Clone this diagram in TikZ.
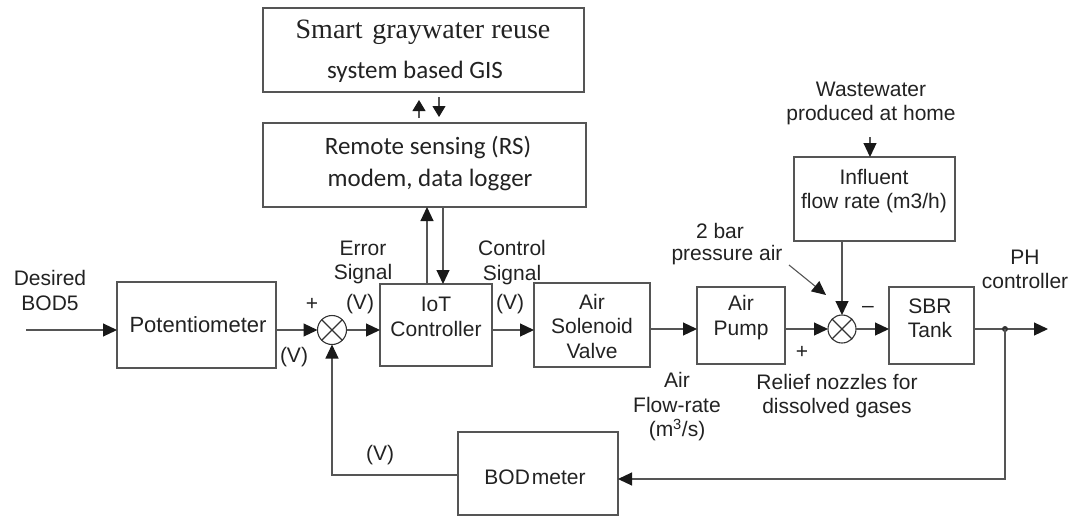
\documentclass[tikz,border=0pt]{standalone}
\usepackage{fontspec}
\setmainfont{Liberation Sans}
\newfontfamily\carlitofont{Carlito}
\newfontfamily\timesfont{Liberation Serif}
\usetikzlibrary{arrows.meta}
\definecolor{linec}{HTML}{555555}
\definecolor{textc}{HTML}{222222}
\tikzset{
  box/.style={draw=linec, line width=1.1pt, rectangle, inner sep=0pt, outer sep=0pt},
  sumnode/.style={draw=black!80, line width=1.1pt, circle, inner sep=0pt, outer sep=0pt},
  lbl/.style={text=textc, font=\fontsize{21}{24.5}\selectfont, align=center, inner sep=0pt},
  cbl/.style={text=textc, font=\carlitofont\fontsize{25}{30}\selectfont, inner sep=0pt},
  conn/.style={draw=linec, line width=1.1pt},
  arr/.style={conn, -{Triangle[length=14pt,width=13pt,color=black!90]}},
  sarr/.style={conn, -{Triangle[length=11pt,width=13pt,color=black!90]}}
}
\begin{document}
\begin{tikzpicture}[x=1pt,y=-1pt]
\useasboundingbox (0,0) rectangle (1074,517);
% boxes
\node[box, minimum width=321, minimum height=84] (gis) at (423.5,50) {};
\node[box, minimum width=323, minimum height=84] (rs) at (424.5,165) {};
\node[box, minimum width=159, minimum height=86] (pot) at (196.5,325) {};
\node[box, minimum width=112, minimum height=82] (iot) at (436,325) {};
\node[box, minimum width=116, minimum height=84] (asv) at (592,325) {};
\node[box, minimum width=88, minimum height=77] (pump) at (741,325.5) {};
\node[box, minimum width=85, minimum height=77] (sbr) at (931.5,325.5) {};
\node[box, minimum width=161, minimum height=84] (infl) at (874.5,199) {};
\node[box, minimum width=160, minimum height=83] (bod) at (538,473.5) {};
\node[sumnode, minimum size=29] (s1) at (332,330) {};
\node[sumnode, minimum size=28] (s2) at (842,329) {};
\draw[conn, draw=black!80] (s1.north east) -- (s1.south west) (s1.north west) -- (s1.south east);
\draw[conn, draw=black!80] (s2.north east) -- (s2.south west) (s2.north west) -- (s2.south east);

% texts in boxes
\node[text=textc, font=\timesfont\fontsize{28}{30}\selectfont, inner sep=0pt] (gisA) at (423,32) {Smart\hspace{0.35em}graywater reuse};
\node[cbl] (gisB) at (415,72) {system based GIS};
\node[cbl] (rsA) at (428,148) {Remote sensing (RS)};
\node[cbl] (rsB) at (430,180) {modem, data logger};
\node[lbl, font=\fontsize{22}{24.5}\selectfont] (potT) at (198,325) {Potentiometer};
\node[lbl] (iotT) at (436,317) {IoT\\Controller};
\node[lbl] (asvT) at (592,326) {Air\\Solenoid\\Valve};
\node[lbl] (pumpT) at (741,317.5) {Air\\Pump};
\node[lbl] (sbrT) at (930,318.5) {SBR\\Tank};
\node[lbl] (inflT) at (874,191) {Influent\\flow rate (m3/h)};
\node[lbl] (bodT) at (535,477) {BOD\kern2pt meter};

% free labels
\node[lbl] (desired) at (50,290.5) {Desired\\BOD5};
\node[lbl] (plus1) at (312,304) {+};
\node[lbl] (v1) at (294,357) {(V)};
\node[lbl] (err) at (363,262.5) {Error\\Signal};
\node[lbl] (v2) at (360,304) {(V)};
\node[lbl] (ctrl) at (512,262.5) {Control\\Signal};
\node[lbl] (v3) at (510,304) {(V)};
\node[lbl] (ww) at (871,103.5) {Wastewater\\produced at home};
\node[lbl] (bar) at (720,231) {2 bar};
\node[lbl] (press) at (727,255) {pressure air};
\node[lbl] (minus) at (868,309) {–};
\node[lbl] (plus2) at (802,352) {+};
\node[lbl] (relief) at (837,396) {Relief nozzles for\\dissolved gases};
\node[lbl] (flow) at (677,407) {Air\\Flow-rate\\(m\textsuperscript{3}/s)};
\node[lbl] (ph) at (1025,269.5) {PH\\controller};
\node[lbl] (v4) at (380,455) {(V)};

% coordinates
\coordinate (in0) at (26,330);
\coordinate (out) at (1048,329);
\coordinate (dot) at (1005,329);
\coordinate (fbR) at (1005,479);
\coordinate (fbL) at (332,475);
\coordinate (ua1) at (419,118);
\coordinate (ua2) at (419,100);
\coordinate (da1) at (439,97);
\coordinate (da2) at (439,117);
\coordinate (ww0) at (870,137);
\coordinate (pa0) at (789,265);
\coordinate (pa1) at (826,295);

% connectors
\draw[arr] (in0) -- (in0 -| pot.west);
\draw[arr] (pot.east |- s1) -- (s1.west);
\draw[arr] (s1.east) -- (s1 -| iot.west);
\draw[arr] (iot.east |- s1) -- (s1 -| asv.west);
\draw[arr] (asv.east |- s2) -- (s2 -| pump.west);
\draw[arr] (pump.east |- s2) -- (s2.west);
\draw[arr] (s2.east) -- (s2 -| sbr.west);
\draw[arr] (sbr.east |- s2) -- (out);
\fill[black!80] (dot) circle (3);
\draw[arr] (dot) -- (fbR) -- (fbR -| bod.east);
\draw[arr] (bod.west |- fbL) -- (fbL) -- (s1.south);
\draw[arr] ([xshift=-9pt]iot.north) -- ([xshift=-9pt]iot.north |- rs.south);
\draw[arr] ([xshift=7pt]iot.north |- rs.south) -- ([xshift=7pt]iot.north);
\draw[sarr] (ua1) -- (ua2);
\draw[sarr] (da1) -- (da2);
\draw[arr] (ww0) -- (ww0 |- infl.north);
\draw[arr] (s2 |- infl.south) -- (s2.north);
\draw[arr] (pa0) -- (pa1);
\end{tikzpicture}
\end{document}
